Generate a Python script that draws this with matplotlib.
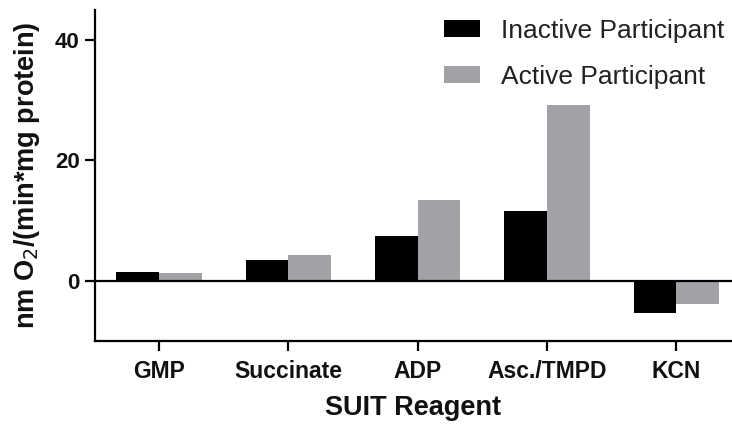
import matplotlib
matplotlib.use("Agg")
import matplotlib.pyplot as plt
import numpy as np

plt.rcParams['font.family'] = ['Liberation Sans', 'DejaVu Sans']

categories = ["GMP", "Succinate", "ADP", "Asc./TMPD", "KCN"]
inactive = [1.5, 3.4, 7.5, 11.6, -5.4]
active = [1.3, 4.3, 13.4, 29.2, -3.9]
series_names = ["Inactive Participant", "Active Participant"]
yticks = [0, 20, 40]

fig = plt.figure(figsize=(7.32, 4.24), dpi=100)
ax = fig.add_axes([95/732, 1-341/424, 1-95/732, (341-10)/424])

x = np.arange(len(categories))
w = 0.33
ax.bar(x - w/2, inactive, width=w, color='black', label=series_names[0])
ax.bar(x + w/2, active, width=w, color='#a2a1a5', label=series_names[1])
ax.axhline(0, color='black', lw=1.6, zorder=3)

ax.set_xlim(-0.495, 4.43)
ax.set_ylim(-10, 45)
ax.set_yticks(yticks)
ax.set_xticks(x)
ax.set_xticklabels(categories, fontsize=16.5, fontweight='bold', color='#111111')
for lab in ax.get_yticklabels():
    lab.set_fontsize(16)
    lab.set_fontweight('bold')
    lab.set_color('#111111')
ax.tick_params(axis='both', width=1.6, length=7, direction='out', pad=4)
ax.tick_params(axis='x', pad=7)
for s in ['top', 'right']:
    ax.spines[s].set_visible(False)
for s in ['left', 'bottom']:
    ax.spines[s].set_linewidth(1.6)

ax.set_ylabel(r"nm O$_2$/(min*mg protein)", fontsize=19.5, fontweight='bold', labelpad=9, color='#111111')
ax.set_xlabel("SUIT Reagent", fontsize=19.5, fontweight='bold', labelpad=8, color='#111111')

leg = ax.legend(loc='upper right', bbox_to_anchor=(0.992, 0.982), frameon=False, fontsize=19,
                handlelength=1.36, handleheight=0.64, handletextpad=0.8, labelspacing=0.85,
                borderaxespad=0.0, borderpad=0.1)
for t in leg.get_texts():
    t.set_color('#222222')

fig.savefig("out.png", dpi=100)
